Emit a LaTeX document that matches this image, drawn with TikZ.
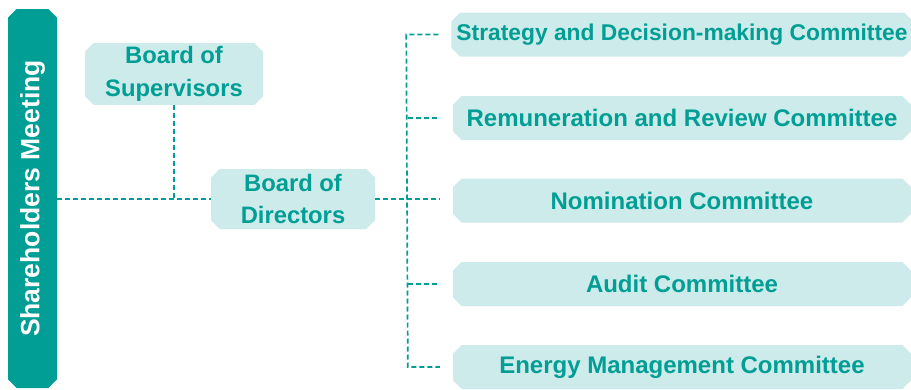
\documentclass[tikz,border=0pt]{standalone}
\usepackage{fontspec}
\setmainfont{Liberation Sans}
\usetikzlibrary{shapes.misc}
\definecolor{tealdark}{HTML}{009E94}
\definecolor{tealpale}{HTML}{CDEBEA}
\tikzset{
  boxbase/.style={chamfered rectangle, chamfered rectangle xsep=5pt,
    chamfered rectangle angle=45, inner sep=0pt, align=center},
  board/.style={boxbase, fill=tealpale, text=tealdark,
    minimum height=60pt, font=\bfseries\fontsize{23.8}{32.5}\selectfont},
  committee/.style={boxbase, fill=tealpale, text=tealdark,
    minimum width=458pt, minimum height=44pt,
    font=\bfseries\fontsize{24}{28}\selectfont},
  meeting/.style={boxbase, fill=tealdark, text=white, rotate=90,
    minimum width=379pt, minimum height=49pt,
    font=\bfseries\fontsize{26.5}{30}\selectfont},
  link/.style={draw=tealdark, line width=1.7pt, dash pattern=on 5pt off 3pt}
}
\begin{document}
\begin{tikzpicture}[x=1pt, y=-1pt]
  \useasboundingbox (0,0) rectangle (911,389);
  % left column
  \node[meeting] (share) at (32.5,198.5) {Shareholders Meeting};
  \node[board, minimum width=178pt] (sup) at (174,74) {Board of\\Supervisors};
  \node[board, minimum width=164pt] (dir) at (293,199) {Board of\\Directors};
  % committees
  \node[committee, font=\bfseries\fontsize{22.8}{28}\selectfont] (c1)
    at (682,34.5) {Strategy and Decision-making Committee};
  \node[committee] (c2) at (682,118) {Remuneration and Review Committee};
  \node[committee] (c3) at (682,200.5) {Nomination Committee};
  \node[committee] (c4) at (682,284) {Audit Committee};
  \node[committee] (c5) at (682,367) {Energy Management Committee};
  % connectors
  \draw[link] (share.south |- dir.west) -- (dir.west);
  \draw[link] (sup.south) -- (sup.south |- dir.west);
  \draw[link] (dir.east) -- ([xshift=-13pt]c3.west |- dir.east);
  \draw[link] ([xshift=-13pt]c1.west) -- ([xshift=-45pt]c1.west)
    -- ([xshift=-45pt]c5.west) -- ([xshift=-13pt]c5.west);
  \foreach \c in {c2,c4}
    \draw[link] ([xshift=-45pt]\c.west) -- ([xshift=-13pt]\c.west);
\end{tikzpicture}
\end{document}
